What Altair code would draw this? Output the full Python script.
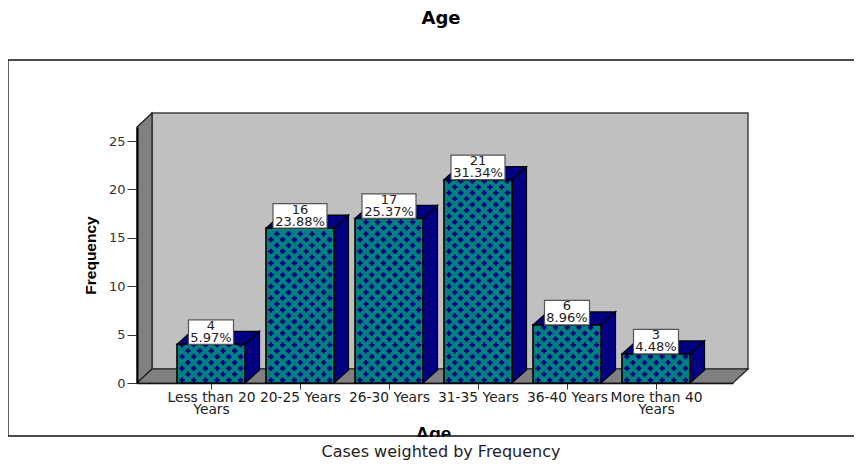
import json
import altair as alt
import pandas as pd

categories = ["Less than 20\nYears", "20-25 Years", "26-30 Years", "31-35 Years", "36-40 Years", "More than 40\nYears"]
counts = [4, 16, 17, 21, 6, 3]
percents = ["5.97%", "23.88%", "25.37%", "31.34%", "8.96%", "4.48%"]

# scale constants: one category step = 89 px, one frequency unit = 9.68 px
PX_X = 89.0
PX_Y = 9.68
XD = [-74 / PX_X, 522 / PX_X]
YD = [0, 256 / PX_Y]
xs = alt.Scale(domain=XD, nice=False, zero=False)
ys = alt.Scale(domain=YD, nice=False, zero=False)
HALF = 34 / PX_X
WALL_X, WALL_Y = 15 / PX_X, 14 / PX_Y
BAR_X, BAR_Y = 14.5 / PX_X, 13 / PX_Y
NAVY = "#000080"
TEAL = "#008080"
FONT = "DejaVu Sans"

label_expr = "%s[datum.value]" % json.dumps([c.split("\n") for c in categories])
x_axis = alt.Axis(
    title="Age", values=list(range(6)), labelExpr=label_expr, grid=False, domain=True, domainColor="#000000",
    domainWidth=1.5, tickColor="#333333", tickSize=6, labelFont=FONT, labelFontSize=13.8,
    labelColor="#222222", labelOverlap=False, labelFlush=False, labelBound=False, labelPadding=1,
    labelLineHeight=12, labelAngle=0, zindex=0, titleFont="Liberation Sans", titleFontSize=19,
    titleFontWeight="bold", titleColor="#000000", titleY=56, titleX=296, titleBaseline="alphabetic")
y_axis = alt.Axis(
    title="Frequency", values=[0, 5, 10, 15, 20, 25], grid=False, domain=True, domainColor="#000000", domainWidth=2,
    tickColor="#333333", tickSize=10, labelFont=FONT, labelFontSize=13, labelColor="#333333",
    labelPadding=2, zindex=1, titleFont="Liberation Sans", titleFontSize=15.5,
    titleFontWeight="bold", titleColor="#000000", titlePadding=10)

X = lambda f="x": alt.X(f"{f}:Q", scale=xs, axis=x_axis, title="Age")
Y = lambda f="y": alt.Y(f"{f}:Q", scale=ys, axis=y_axis, title="Frequency")

# ---- chart frame
LEFT_F, RIGHT_F = -203 / PX_X, 650 / PX_X
frame = pd.DataFrame([
    dict(x=LEFT_F, x2=RIGHT_F, y=323 / PX_Y, y2=323 / PX_Y),
    dict(x=LEFT_F, x2=RIGHT_F, y=-53 / PX_Y, y2=-53 / PX_Y),
    dict(x=LEFT_F, x2=LEFT_F, y=323 / PX_Y, y2=-53 / PX_Y),
])
frame_rules = alt.Chart(frame).mark_rule(color="#111111", strokeWidth=1.3).encode(
    x=X(), x2="x2:Q", y=Y(), y2="y2:Q")

# ---- walls and floor
x0, x1, y1 = XD[0], XD[1], YD[1]
back = alt.Chart(pd.DataFrame([dict(x=x0 + WALL_X, x2=x1 + WALL_X, y=WALL_Y, y2=y1 + WALL_Y)])).mark_rect(
    fill="#c0c0c0", stroke="#404040", strokeWidth=1.5).encode(x=X(), x2="x2:Q", y=Y(), y2="y2:Q")
left = alt.Chart(pd.DataFrame([
    dict(x=x0, y=0, y2=y1), dict(x=x0 + WALL_X, y=WALL_Y, y2=y1 + WALL_Y)
])).mark_area(fill="#808080", stroke="#202020", strokeWidth=1.2, orient="vertical").encode(
    x=X(), y=Y(), y2="y2:Q")
floor = alt.Chart(pd.DataFrame([
    dict(x=x0, x2=x1, y=0), dict(x=x0 + WALL_X, x2=x1 + WALL_X, y=WALL_Y)
])).mark_area(fill="#808080", stroke="#202020", strokeWidth=1.2, orient="horizontal").encode(
    x=X(), x2="x2:Q", y=Y())

# ---- 3D bars
front_rows, top_rows, side_rows, cross_rows, box_rows = [], [], [], [], []
for i, v in enumerate(counts):
    front_rows.append(dict(x=i - HALF, x2=i + HALF, y=0, y2=v))
    top_rows += [dict(b=i, x=i - HALF, x2=i + HALF, y=v),
                 dict(b=i, x=i - HALF + BAR_X, x2=i + HALF + BAR_X, y=v + BAR_Y)]
    side_rows += [dict(b=i, x=i + HALF, y=0, y2=v),
                  dict(b=i, x=i + HALF + BAR_X, y=BAR_Y, y2=v + BAR_Y)]
    half_w = (22.5 if v < 10 else 27) / PX_X
    box_rows.append(dict(x=i - half_w, x2=i + half_w, y=v, y2=v + 24.5 / PX_Y,
                         cx=i, c=str(v), p=percents[i],
                         yc=v + 18.5 / PX_Y, yp=v + 6.5 / PX_Y))
    # texture of the bar fill
    row = 0
    while (row + 0.5) * 5.85 < v * PX_Y:
        px = 5.0 + (5.85 if row % 2 else 0)
        while px < 66:
            cross_rows.append(dict(x=i - HALF + px / PX_X, y=(row + 0.5) * 5.85 / PX_Y))
            px += 11.7
        row += 1

sides = alt.Chart(pd.DataFrame(side_rows)).mark_area(
    fill=NAVY, stroke="#000000", strokeWidth=1.2, orient="vertical").encode(
    x=X(), y=Y(), y2="y2:Q", detail="b:N")
tops = alt.Chart(pd.DataFrame(top_rows)).mark_area(
    fill=NAVY, stroke="#000000", strokeWidth=1.2, orient="horizontal").encode(
    x=X(), x2="x2:Q", y=Y(), detail="b:N")
front = alt.Chart(pd.DataFrame(front_rows)).mark_rect(fill=TEAL).encode(
    x=X(), x2="x2:Q", y=Y(), y2="y2:Q")
crosses = alt.Chart(pd.DataFrame(cross_rows)).mark_point(
    shape="cross", filled=True, fill=NAVY, strokeWidth=0, size=28, opacity=1).encode(x=X(), y=Y())
front_edge = alt.Chart(pd.DataFrame(front_rows)).mark_rect(
    fillOpacity=0, stroke="#000000", strokeWidth=1.6).encode(
    x=X(), x2="x2:Q", y=Y(), y2="y2:Q")

# ---- value boxes
boxes_df = pd.DataFrame(box_rows)
boxes = alt.Chart(boxes_df).mark_rect(fill="white", stroke="#555555", strokeWidth=1.2).encode(
    x=X(), x2="x2:Q", y=Y(), y2="y2:Q")
count_text = alt.Chart(boxes_df).mark_text(font=FONT, fontSize=13, color="#222222", baseline="middle").encode(
    x=X("cx"), y=Y("yc"), text="c:N")
pct_text = alt.Chart(boxes_df).mark_text(font=FONT, fontSize=13, color="#222222", baseline="middle").encode(
    x=X("cx"), y=Y("yp"), text="p:N")

# ---- lower frame edge cuts the axis title, then the footer
mask = alt.Chart(pd.DataFrame([dict(x=LEFT_F, x2=RIGHT_F, y=-54 / PX_Y, y2=-62 / PX_Y)])).mark_rect(
    fill="white").encode(x=X(), x2="x2:Q", y=Y(), y2="y2:Q")
footer = alt.Chart(pd.DataFrame([dict(x=230 / PX_X, y=-73.5 / PX_Y, t="Cases weighted by Frequency")])).mark_text(
    font=FONT, fontSize=16, color="#222222", baseline="alphabetic").encode(x=X(), y=Y(), text="t:N")

chart = alt.layer(
    back, left, floor, sides, tops, front, crosses, front_edge,
    boxes, count_text, pct_text, mask, frame_rules, footer
).properties(
    width=596, height=256,
    padding={"left": 129, "top": 119, "right": 121, "bottom": 77},
    autosize=alt.AutoSizeParams(type="none"),
    title=alt.Title("Age", font=FONT, fontSize=18, fontWeight="bold", color="#000000",
                    anchor="middle", dx=6, offset=31),
    background="white",
).configure_view(stroke=None)

chart.save("out.html", embed_options={"renderer": "svg", "actions": False})
